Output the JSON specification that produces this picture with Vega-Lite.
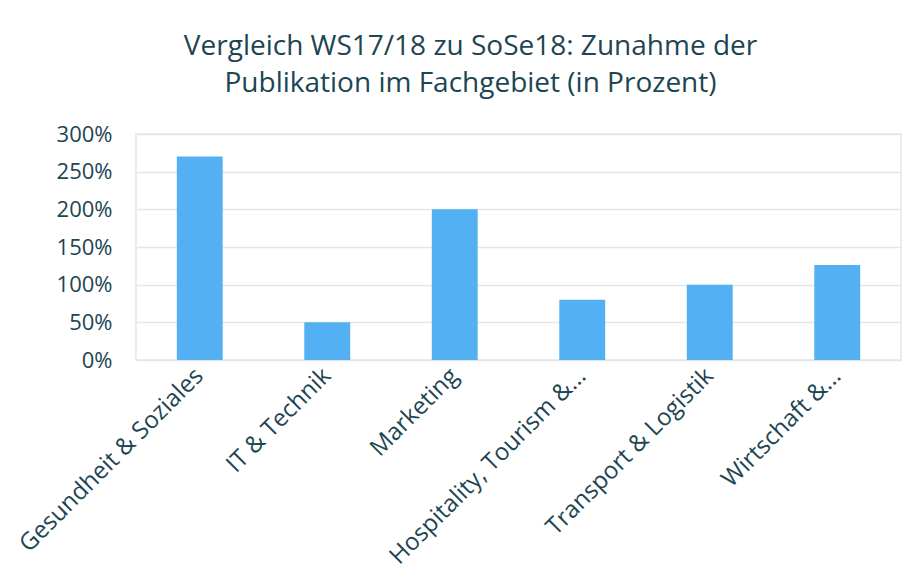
{
  "$schema": "https://vega.github.io/schema/vega-lite/v6.json",
  "width": 765,
  "height": 226,
  "autosize": {"type": "none"},
  "padding": {"left": 136, "top": 134, "right": 16, "bottom": 225},
  "background": "white",
  "title": {
    "text": ["Vergleich WS17/18 zu SoSe18: Zunahme der", "Publikation im Fachgebiet (in Prozent)"],
    "font": "Open Sans",
    "fontSize": 28,
    "fontWeight": "normal",
    "color": "#1d4552",
    "anchor": "middle",
    "dx": -48,
    "offset": 25,
    "lineHeight": 37
  },
  "data": {
    "values": [
      {"Fachgebiet": "Gesundheit & Soziales", "Zunahme": 2.70},
      {"Fachgebiet": "IT & Technik", "Zunahme": 0.50},
      {"Fachgebiet": "Marketing", "Zunahme": 2.00},
      {"Fachgebiet": "Hospitality, Tourism &...", "Zunahme": 0.80},
      {"Fachgebiet": "Transport & Logistik", "Zunahme": 1.00},
      {"Fachgebiet": "Wirtschaft &...", "Zunahme": 1.26}
    ]
  },
  "mark": {"type": "bar", "color": "#52b0f3"},
  "encoding": {
    "x": {
      "field": "Fachgebiet",
      "type": "nominal",
      "sort": null,
      "scale": {"paddingInner": 0.64, "paddingOuter": 0.32},
      "axis": {
        "title": null,
        "labelAngle": -45,
        "labelAlign": "right",
        "labelBaseline": "middle",
        "labelFont": "Open Sans",
        "labelFontSize": 24,
        "labelColor": "#1d4552",
        "labelPadding": 12,
        "labelLimit": 400,
        "ticks": false,
        "domain": false
      }
    },
    "y": {
      "field": "Zunahme",
      "type": "quantitative",
      "scale": {"domain": [0, 3], "nice": false},
      "axis": {
        "title": null,
        "format": ".0%",
        "values": [0, 0.5, 1, 1.5, 2, 2.5, 3],
        "labelFont": "Open Sans",
        "labelFontSize": 22,
        "labelColor": "#1d4552",
        "labelPadding": 24,
        "ticks": false,
        "domain": false,
        "grid": true,
        "gridColor": "#e4e7e9",
        "gridWidth": 1.5
      }
    }
  },
  "config": {
    "view": {"stroke": "#e4e7e9", "strokeWidth": 1.5}
  }
}
